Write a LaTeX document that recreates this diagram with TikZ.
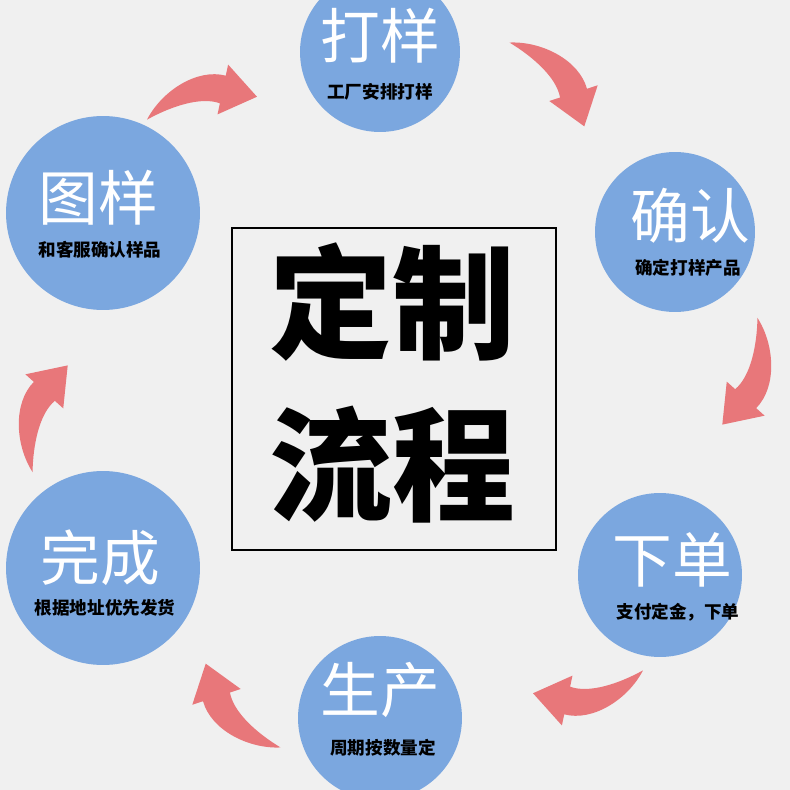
\documentclass[tikz,border=0pt]{standalone}
\usepackage{fontspec}
\newfontfamily\cjk{Noto Sans CJK SC}
\definecolor{bg}{HTML}{F0F0F0}
\definecolor{cb}{HTML}{7BA7DF}
\definecolor{ar}{HTML}{E8777A}
\begin{document}
\begin{tikzpicture}[x=0.02cm,y=-0.02cm,
  circ/.style={circle,fill=cb,inner sep=0pt},
  ttl/.style={text=white,font=\cjk\fontsize{34}{36}\selectfont},
  sub/.style={text=black,font=\cjk\bfseries\fontsize{10}{12}\selectfont},
  big/.style={text=black,font=\cjk\bfseries\fontsize{70}{72}\selectfont}]
\fill[bg] (0,0) rectangle (790,790);
\useasboundingbox (0,0) rectangle (790,790);
% arrows
\foreach \a in {-33,-93,-153,-213,-273,-333}{
\begin{scope}[shift={(395,395)},rotate=-\a,yscale=-1]
\begin{scope}[shift={(0,358)}]
\fill[ar] (-58,8) .. controls (-30,24) and (12,24) .. (32,2)
  -- (40,10) -- (46.7,-32.7) -- (4,-26) -- (12,-18)
  .. controls (0,-2) and (-30,6) .. (-58,8) -- cycle;
\end{scope}
\end{scope}}
\node[circ,minimum size=3.2cm] (c1) at (380,52) {};
\node[circ,minimum size=3.2cm] (c2) at (675,232) {};
\node[circ,minimum size=3.28cm] (c3) at (660,575) {};
\node[circ,minimum size=3.28cm] (c4) at (380,718) {};
\node[circ,minimum size=3.88cm] (c5) at (103,568) {};
\node[circ,minimum size=3.88cm] (c6) at (103,213) {};
\node[ttl] (t1) at (380,36) {打样};
\node[sub] (s1) at (380,92) {工厂安排打样};
\node[ttl] (t2) at (690,216) {确认};
\node[sub] (s2) at (688,268) {确定打样产品};
\node[ttl] (t3) at (672,560) {下单};
\node[sub] (s3) at (678,612) {支付定金，下单};
\node[ttl] (t4) at (380,690) {生产};
\node[sub] (s4) at (383,748) {周期按数量定};
\node[ttl] (t5) at (100,558) {完成};
\node[sub] (s5) at (105,608) {根据地址优先发货};
\node[ttl] (t6) at (98,198) {图样};
\node[sub] (s6) at (100,250) {和客服确认样品};
\node[draw=black,line width=0.8pt,minimum width=6.48cm,minimum height=6.44cm] (box) at (394,389) {};
\node[big] (b1) at (392,302) {定制};
\node[big] (b2) at (392,465) {流程};
\end{tikzpicture}
\end{document}
